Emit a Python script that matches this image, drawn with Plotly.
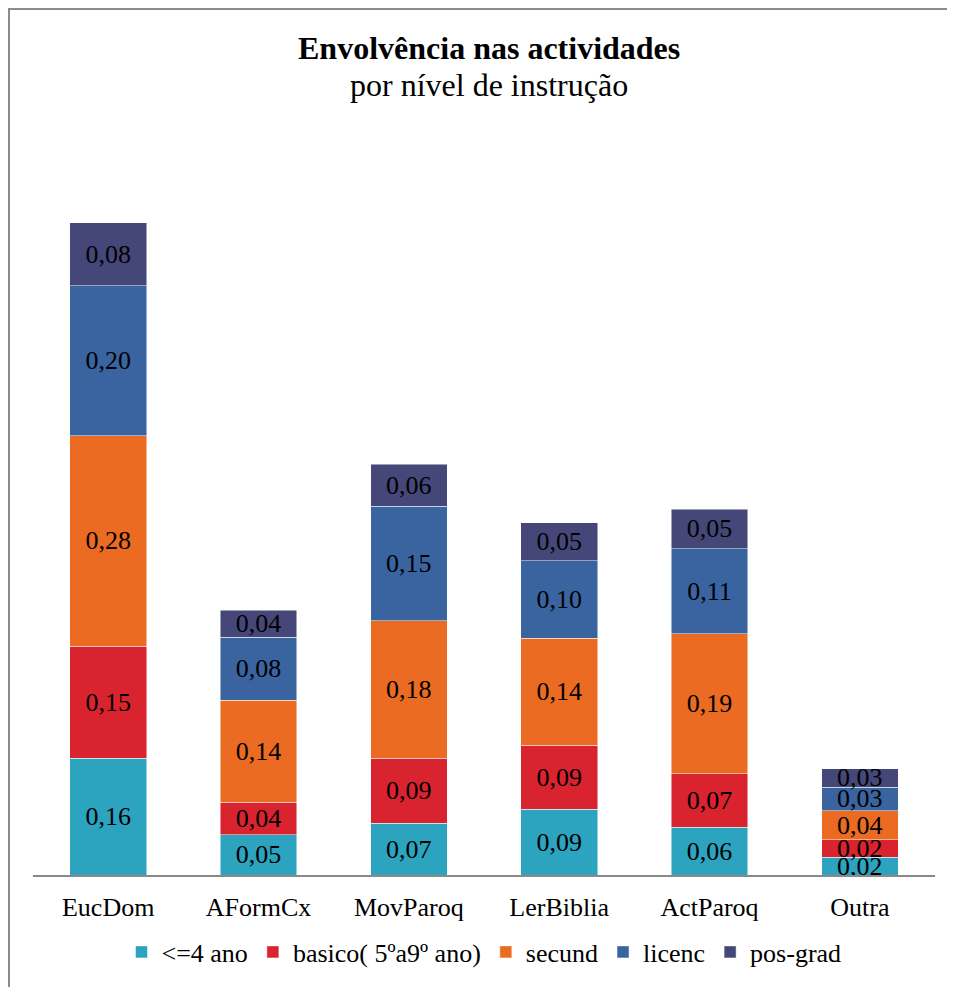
import plotly.graph_objects as go

categories = ["EucDom", "AFormCx", "MovParoq", "LerBiblia", "ActParoq", "Outra"]
series_names = ["<=4 ano", "basico( 5ºa9º ano)", "secund", "licenc", "pos-grad"]
v_le4 = [0.156, 0.054, 0.069, 0.088, 0.064, 0.024]
v_basico = [0.149, 0.043, 0.087, 0.085, 0.071, 0.023]
v_secund = [0.281, 0.136, 0.183, 0.143, 0.187, 0.039]
v_licenc = [0.200, 0.084, 0.153, 0.103, 0.113, 0.031]
v_posgrad = [0.084, 0.036, 0.056, 0.051, 0.053, 0.025]
colors = ["#2CA3BF", "#D9232E", "#EA6B21", "#3A64A0", "#454779"]

FONT = "Liberation Serif"
W, H = 955, 987
L, R, T, B = 25, 28, 140, 120
PW, PH = W - L - R, H - T - B

def px(x):
    return (x - L) / PW

def py(y):
    return (H - B - y) / PH

fig = go.Figure()
for name, vals, col in zip(series_names, [v_le4, v_basico, v_secund, v_licenc, v_posgrad], colors):
    fig.add_trace(go.Bar(
        x=categories, y=vals, name=name,
        marker=dict(color=col, line=dict(color="rgba(255,255,255,0.6)", width=0.8)),
        texttemplate="%{y:.2f}", textposition="inside", insidetextanchor="middle",
        textangle=0, constraintext="none",
        textfont=dict(family=FONT, size=26, color="black"),
        hoverinfo="skip",
    ))

fig.update_layout(
    width=W, height=H,
    barmode="stack", bargap=0.49,
    separators=",.",
    paper_bgcolor="white", plot_bgcolor="white",
    margin=dict(l=L, r=R, t=T, b=B),
    font=dict(family=FONT, size=26, color="black"),
    xaxis=dict(showline=True, linecolor="#898989", linewidth=1.5, ticks="",
               ticklabelstandoff=8,
               tickfont=dict(family=FONT, size=26), showgrid=False),
    yaxis=dict(visible=False, range=[0, PH / 750], showgrid=False),
    legend=dict(orientation="h", x=0.5, xanchor="center", y=py(944), yanchor="middle",
                font=dict(family=FONT, size=26), traceorder="normal",
                itemwidth=30),
    annotations=[
        dict(text="<b>Envolvência nas actividades</b>", xref="paper", yref="paper",
             x=px(481), y=py(40), xanchor="center", yanchor="middle", showarrow=False,
             font=dict(family=FONT, size=32, color="black")),
        dict(text="por nível de instrução", xref="paper", yref="paper",
             x=px(481), y=py(77), xanchor="center", yanchor="middle", showarrow=False,
             font=dict(family=FONT, size=32, color="black")),
    ],
    shapes=[dict(type="rect", xref="paper", yref="paper",
                 x0=px(1), x1=px(W + 5), y0=py(H + 5), y1=py(1),
                 line=dict(color="#8c8c8c", width=2), fillcolor="rgba(0,0,0,0)", layer="below")],
)

fig.write_html("out.html")
